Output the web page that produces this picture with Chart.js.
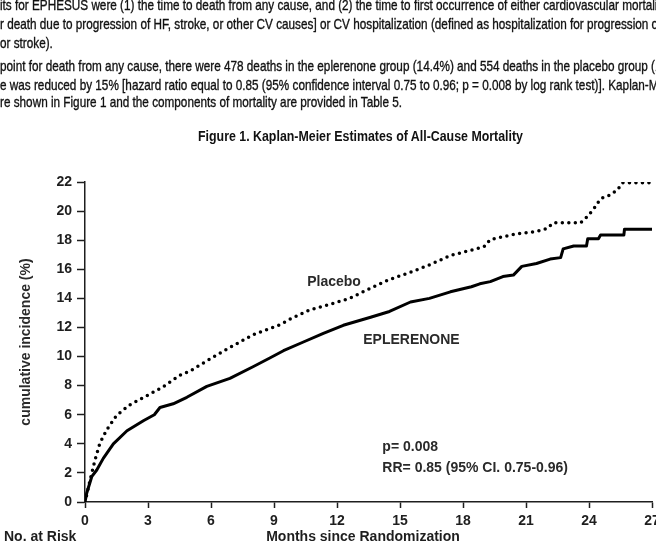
<!DOCTYPE html>
<html>
<head>
<meta charset="utf-8">
<script src="https://cdn.jsdelivr.net/npm/chart.js@4"></script>
<style>
  body { margin: 0; background: #fff; }
  #page { position: relative; width: 656px; height: 546px; overflow: hidden; }
  #fig { position: absolute; left: 0; top: 0; }
  .txt {
    position: absolute; left: 0; white-space: nowrap; color: #111;
    font-family: "Liberation Sans", Arial, sans-serif;
    font-size: 15px; line-height: 18px;
    -webkit-text-stroke: 0.35px #111;
    transform-origin: 0 50%;
  }
  #figTitle { font-weight: bold; font-size: 14px; -webkit-text-stroke: 0; }
</style>
</head>
<body>
<div id="page">
  <canvas id="fig" width="656" height="546"></canvas>
  <div class="txt para" style="top:-4px">its for EPHESUS were (1) the time to death from any cause, and (2) the time to first occurrence of either cardiovascular mortality</div>
  <div class="txt para" style="top:15px">r death due to progression of HF, stroke, or other CV causes] or CV hospitalization (defined as hospitalization for progression of HF</div>
  <div class="txt para" style="top:34px">or stroke).</div>
  <div class="txt para" style="top:57px">point for death from any cause, there were 478 deaths in the eplerenone group (14.4%) and 554 deaths in the placebo group (16.7%)</div>
  <div class="txt para" style="top:76px">e was reduced by 15% [hazard ratio equal to 0.85 (95% confidence interval 0.75 to 0.96; p = 0.008 by log rank test)]. Kaplan-Meier</div>
  <div class="txt para" id="lastLine" style="top:93px">re shown in Figure 1 and the components of mortality are provided in Table 5.</div>
  <div class="txt" id="figTitle" style="top:127px;left:198px">Figure 1. Kaplan-Meier Estimates of All-Cause Mortality</div>
</div>
<script>
// squeeze the paragraph text to the width it has in the scan
const paraLines = document.querySelectorAll(".para");
const k = 402 / document.getElementById("lastLine").getBoundingClientRect().width;
paraLines.forEach(el => el.style.transform = "scaleX(" + k + ")");
const ft = document.getElementById("figTitle");
ft.style.transform = "scaleX(" + (325 / ft.getBoundingClientRect().width) + ")";

// x axis: months since randomization, y axis: cumulative incidence (%)
const monthTicks = [0, 3, 6, 9, 12, 15, 18, 21, 24, 27];
const pctTicks = [0, 2, 4, 6, 8, 10, 12, 14, 16, 18, 20, 22];

const placeboMonths = [0, 0.1, 0.24, 0.48, 0.71, 1.03, 1.5, 2.1, 2.8, 3.7, 4.5, 5.0, 5.8, 6.75, 8.0, 9.3, 9.8,
  10.7, 11.7, 12.6, 13.6, 14.5, 15.5, 16.4, 17.4, 18.35, 19.0, 19.3, 20.6, 21.5, 22.0, 22.3, 23.6,
  23.9, 24.2, 24.55, 25.0, 25.35, 25.6, 27.0];
const placeboPct = [0, 0.6, 1.5, 2.9, 4.05, 4.95, 5.95, 6.65, 7.2, 7.9, 8.7, 9.0, 9.7, 10.5, 11.5, 12.2, 12.6,
  13.2, 13.6, 14.0, 14.7, 15.3, 15.8, 16.3, 16.95, 17.3, 17.55, 18.05, 18.45, 18.6, 18.8, 19.2, 19.2,
  19.6, 20.1, 20.85, 21.1, 21.45, 21.95, 21.95];

const eplerenoneMonths = [0, 0.08, 0.32, 0.56, 0.87, 1.35, 2.0, 2.8, 3.3, 3.57, 4.2, 4.85, 5.8, 6.9, 8.0, 8.8,
  9.45, 10.4, 11.35, 12.3, 13.6, 14.5, 15.5, 16.4, 17.4, 18.4, 18.8, 19.3, 19.9, 20.4, 20.8, 21.5,
  22.15, 22.65, 22.77, 23.27, 23.88, 23.94, 24.45, 24.55, 25.66, 25.69, 27.0];
const eplerenonePct = [0, 0.6, 1.74, 2.2, 3.0, 4.0, 4.9, 5.6, 6.0, 6.5, 6.75, 7.2, 7.95, 8.5, 9.3, 9.9,
  10.4, 11.0, 11.6, 12.15, 12.7, 13.1, 13.75, 14.0, 14.45, 14.8, 15.0, 15.15, 15.5, 15.6, 16.2, 16.4,
  16.7, 16.8, 17.4, 17.6, 17.6, 18.1, 18.1, 18.35, 18.35, 18.75, 18.75];

const toXY = (xs, ys) => xs.map((x, i) => ({ x: x, y: ys[i] }));

const inkColor = "#1e1e1e";
const boldFont = { family: "'Liberation Sans', Arial, sans-serif", size: 14, weight: "bold" };

// text labels written inside the plot
const notes = [
  { text: "Placebo", month: 10.58, pct: 15.12 },
  { text: "EPLERENONE", month: 13.25, pct: 11.13 },
  { text: "p= 0.008", month: 14.16, pct: 3.78 },
  { text: "RR= 0.85 (95% CI. 0.75-0.96)", month: 14.16, pct: 2.34 },
];

const notesPlugin = {
  id: "notes",
  afterDatasetsDraw(chart) {
    const ctx = chart.ctx;
    const xs = chart.scales.x, ys = chart.scales.y;
    ctx.save();
    ctx.fillStyle = "#2a2a2a";
    ctx.font = "bold 14px 'Liberation Sans', Arial, sans-serif";
    ctx.textAlign = "left";
    ctx.textBaseline = "middle";
    notes.forEach(n => ctx.fillText(n.text, xs.getPixelForValue(n.month), ys.getPixelForValue(n.pct)));
    ctx.fillStyle = inkColor;
    ctx.fillText("No. at Risk", 4, 537);
    ctx.textAlign = "center";
    ctx.fillText("Months since Randomization", 363, 537);
    ctx.restore();
  }
};

new Chart(document.getElementById("fig"), {
  type: "line",
  data: {
    datasets: [
      {
        label: "Placebo",
        data: toXY(placeboMonths, placeboPct),
        borderColor: "#000",
        borderWidth: 3.5,
        borderDash: [0, 6.5],
        borderCapStyle: "round",
        pointRadius: 0,
        tension: 0,
        fill: false,
      },
      {
        label: "EPLERENONE",
        data: toXY(eplerenoneMonths, eplerenonePct),
        borderColor: "#000",
        borderWidth: 3,
        borderJoinStyle: "round",
        pointRadius: 0,
        tension: 0,
        fill: false,
      },
    ],
  },
  options: {
    responsive: false,
    animation: false,
    devicePixelRatio: 1,
    layout: { padding: { top: 182, right: 4, left: 0, bottom: 0 } },
    plugins: { legend: { display: false }, tooltip: { enabled: false } },
    scales: {
      x: {
        type: "linear",
        min: 0,
        max: 27,
        afterBuildTicks: s => { s.ticks = monthTicks.map(v => ({ value: v })); },
        afterFit: s => { s.height = 44; s.paddingLeft = 0; s.paddingRight = 0; },
        grid: { drawOnChartArea: false, tickLength: 6, tickWidth: 1.5, tickColor: inkColor },
        border: { color: inkColor, width: 1.5 },
        ticks: { color: inkColor, font: boldFont, padding: 5, maxRotation: 0, autoSkip: false },
      },
      y: {
        min: 0,
        max: 22,
        afterBuildTicks: s => { s.ticks = pctTicks.map(v => ({ value: v })); },
        afterFit: s => { s.width = 85; },
        grid: { drawOnChartArea: false, tickLength: 8, tickWidth: 1.5, tickColor: inkColor },
        border: { color: inkColor, width: 1.5 },
        ticks: { color: inkColor, font: boldFont, padding: 5, autoSkip: false },
        title: { display: true, text: "cumulative incidence (%)", color: "#2a2a2a", font: boldFont, padding: { top: 18, bottom: 0 } },
      },
    },
  },
  plugins: [notesPlugin],
});
</script>
</body>
</html>
